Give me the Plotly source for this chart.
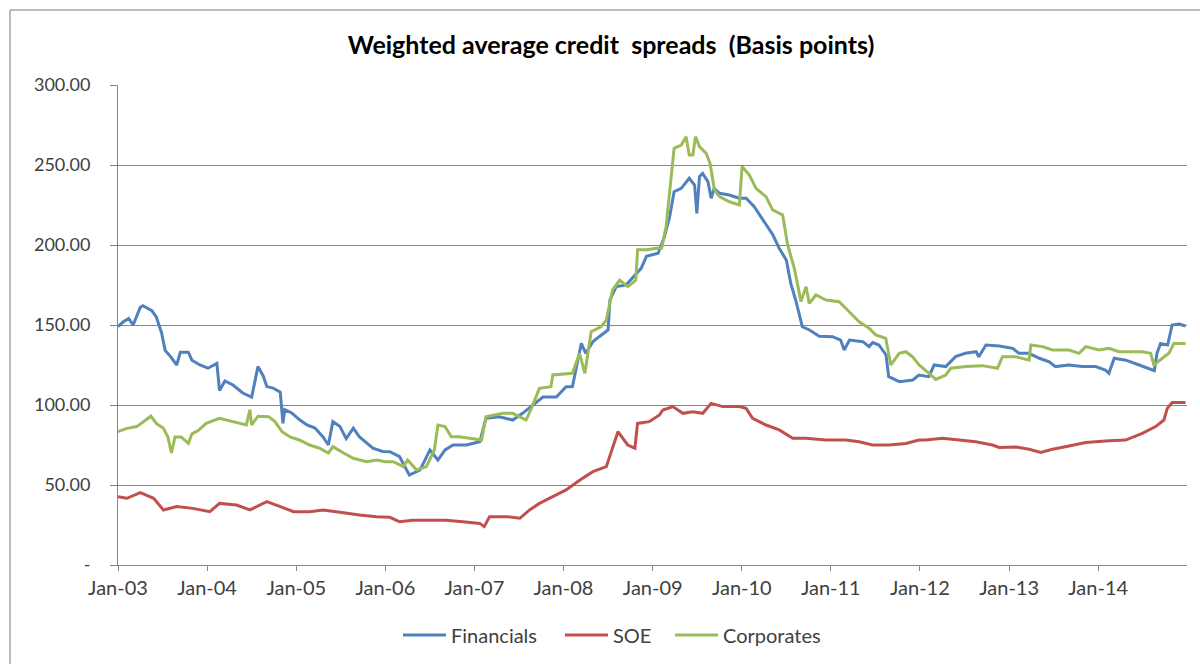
import datetime as dt
import plotly.graph_objects as go

# ---- data (x = decimal year, y = basis points) ----
fin_t = [2003.00, 2003.06, 2003.12, 2003.17, 2003.25, 2003.28, 2003.38, 2003.43, 2003.49, 2003.53,
         2003.58, 2003.66, 2003.70, 2003.79, 2003.83, 2003.92, 2004.01, 2004.11, 2004.14, 2004.20,
         2004.29, 2004.40, 2004.50, 2004.57, 2004.63, 2004.67, 2004.74, 2004.82, 2004.85, 2004.87,
         2004.95, 2005.04, 2005.12, 2005.21, 2005.30, 2005.36, 2005.41, 2005.49, 2005.56, 2005.64,
         2005.71, 2005.79, 2005.86, 2005.97, 2006.05, 2006.16, 2006.27, 2006.39, 2006.50, 2006.59,
         2006.67, 2006.76, 2006.91, 2007.06, 2007.13, 2007.28, 2007.43, 2007.54, 2007.66, 2007.77,
         2007.92, 2008.03, 2008.10, 2008.20, 2008.25, 2008.33, 2008.40, 2008.50, 2008.52, 2008.59,
         2008.70, 2008.78, 2008.87, 2008.93, 2009.06, 2009.13, 2009.19, 2009.24, 2009.32, 2009.41,
         2009.47, 2009.495, 2009.525, 2009.56, 2009.62, 2009.656, 2009.69, 2009.75, 2009.86, 2009.97,
         2010.05, 2010.14, 2010.20, 2010.27, 2010.35, 2010.42, 2010.50, 2010.55, 2010.61, 2010.68,
         2010.76, 2010.87, 2011.02, 2011.11, 2011.15, 2011.21, 2011.36, 2011.43, 2011.47, 2011.54,
         2011.62, 2011.65, 2011.77, 2011.92, 2011.99, 2012.10, 2012.16, 2012.29, 2012.40, 2012.51,
         2012.63, 2012.66, 2012.74, 2012.89, 2013.04, 2013.11, 2013.22, 2013.34, 2013.45, 2013.52,
         2013.67, 2013.82, 2013.97, 2014.08, 2014.12, 2014.18, 2014.31, 2014.46, 2014.57, 2014.63,
         2014.66, 2014.70, 2014.78, 2014.83, 2014.91, 2014.98]
fin_v = [149, 152, 154, 150, 161, 162, 159, 155, 145, 134,
         131, 125, 133, 133, 128, 125, 123, 126, 109, 115,
         112.5, 107.5, 105, 124, 118, 111.5, 110.6, 108, 88.5, 97,
         95, 90.6, 87.5, 85.6, 80, 75, 89.6, 86.5, 79, 85.6,
         80, 76, 73, 71, 70.8, 67.7, 56.2, 59.4, 71.9, 65.6,
         71.9, 75, 75, 77, 91.7, 92.7, 90.6, 94.8, 100, 105,
         105, 111.4, 111.4, 138.5, 132.3, 139.6, 142.7, 146.9, 165.6, 174,
         175, 180, 185.4, 193, 194.8, 205, 217.7, 233.3, 235.4, 241.7,
         237.5, 219.8, 242.7, 244.8, 239.6, 229.2, 235.4, 232.3, 231.25, 229.2,
         229.2, 224, 218.75, 212.5, 206.25, 198, 190.6, 176, 164.6, 148.9,
         146.9, 143, 142.7, 140.6, 134.4, 140.6, 139.6, 136.5, 139, 137.5,
         131.25, 117.7, 114.6, 115.6, 118.75, 117.7, 125, 124, 130.2, 132.3,
         133.3, 130.2, 137.5, 136.9, 135.4, 132.3, 132.3, 129.2, 127, 124,
         125, 124, 124, 121.9, 119.8, 129.2, 128, 125, 123, 121.5,
         132.3, 138.5, 137.5, 150, 150.6, 149.4]

soe_t = [2003.00, 2003.10, 2003.25, 2003.40, 2003.51, 2003.66, 2003.84, 2004.03, 2004.14, 2004.33,
         2004.48, 2004.67, 2004.82, 2004.97, 2005.15, 2005.30, 2005.53, 2005.71, 2005.90, 2006.05,
         2006.16, 2006.31, 2006.50, 2006.68, 2006.87, 2007.06, 2007.11, 2007.17, 2007.36, 2007.51,
         2007.62, 2007.73, 2007.88, 2008.03, 2008.18, 2008.33, 2008.48, 2008.55, 2008.61, 2008.72,
         2008.80, 2008.83, 2008.96, 2009.076, 2009.113, 2009.226, 2009.338, 2009.45, 2009.562, 2009.656,
         2009.786, 2009.973, 2010.048, 2010.122, 2010.272, 2010.421, 2010.571, 2010.721, 2010.945, 2011.169,
         2011.318, 2011.468, 2011.655, 2011.842, 2011.991, 2012.066, 2012.253, 2012.439, 2012.626, 2012.813,
         2012.888, 2013.075, 2013.224, 2013.355, 2013.486, 2013.673, 2013.86, 2014.121, 2014.308, 2014.495,
         2014.645, 2014.738, 2014.776, 2014.831, 2014.981]
soe_v = [42.7, 41.7, 45.2, 41.7, 34.4, 36.5, 35.4, 33.3, 38.5, 37.5,
         34.4, 39.6, 36.5, 33.3, 33.3, 34.4, 32.7, 31.2, 30.2, 29.8,
         27, 28, 28, 28, 27, 26, 24, 30.2, 30.2, 29.2,
         34.4, 38.5, 42.7, 46.9, 53, 58.3, 61.5, 74, 83.3, 75,
         73, 88.5, 89.6, 93.75, 96.9, 99, 94.8, 95.8, 94.8, 101,
         99, 99, 97.9, 91.7, 87.5, 84.4, 79.2, 79.2, 78.1, 78.1,
         77, 75, 75, 76, 78.1, 78.1, 79.2, 78.1, 77, 75,
         73.5, 73.8, 72.3, 70.4, 72.3, 74.4, 76.5, 77.7, 78.1, 82.3,
         86.5, 90.6, 97.9, 101.5, 101.5]

corp_t = [2003.00, 2003.10, 2003.21, 2003.28, 2003.37, 2003.43, 2003.51, 2003.56, 2003.60, 2003.64,
          2003.71, 2003.79, 2003.83, 2003.90, 2003.99, 2004.14, 2004.29, 2004.44, 2004.48, 2004.50,
          2004.57, 2004.69, 2004.76, 2004.84, 2004.93, 2005.04, 2005.15, 2005.26, 2005.36, 2005.41,
          2005.53, 2005.64, 2005.79, 2005.90, 2006.00, 2006.09, 2006.20, 2006.25, 2006.35, 2006.46,
          2006.55, 2006.59, 2006.67, 2006.74, 2006.83, 2006.98, 2007.08, 2007.13, 2007.23, 2007.32,
          2007.43, 2007.58, 2007.64, 2007.73, 2007.86, 2007.88, 2008.10, 2008.18, 2008.24, 2008.31,
          2008.42, 2008.48, 2008.55, 2008.63, 2008.72, 2008.81, 2008.83, 2008.93, 2009.04, 2009.10,
          2009.15, 2009.21, 2009.24, 2009.32, 2009.375, 2009.41, 2009.45, 2009.48, 2009.525, 2009.60,
          2009.644, 2009.693, 2009.749, 2009.861, 2009.973, 2010.003, 2010.085, 2010.16, 2010.272, 2010.346,
          2010.459, 2010.515, 2010.59, 2010.665, 2010.721, 2010.758, 2010.833, 2010.945, 2011.094, 2011.206,
          2011.318, 2011.43, 2011.505, 2011.617, 2011.674, 2011.767, 2011.842, 2011.916, 2011.991, 2012.103,
          2012.178, 2012.29, 2012.346, 2012.514, 2012.701, 2012.869, 2012.925, 2013.075, 2013.224, 2013.243,
          2013.374, 2013.486, 2013.673, 2013.785, 2013.86, 2014.009, 2014.121, 2014.233, 2014.495, 2014.589,
          2014.626, 2014.72, 2014.794, 2014.85, 2014.981]
corp_v = [83.3, 85.4, 86.5, 89.6, 93, 88.5, 85.4, 80, 70, 80,
          80, 76, 82, 84, 88.5, 91.7, 89.6, 87.5, 97, 87.5,
          93, 92.7, 89.6, 83.3, 80, 78, 75, 73, 70, 74,
          70, 66.7, 64.6, 65.6, 64.6, 64.6, 61.5, 65.6, 59.4, 61.5,
          71.9, 87.5, 86.5, 80.2, 80.2, 79.2, 78.1, 92.7, 93.75, 94.8,
          94.8, 90.6, 97.9, 110.4, 111.4, 118.75, 119.8, 132.3, 119.8, 145.8,
          148.9, 153, 171.9, 178, 174, 178, 197, 197, 198, 198,
          211.5, 244.8, 260.4, 262.5, 267.7, 256.25, 256.25, 267.7, 261.5, 257.3,
          251, 234.4, 230.2, 227, 225, 249, 243.75, 235.4, 230.2, 221.9,
          218.75, 200, 185.4, 164.6, 174, 163.5, 168.75, 165.6, 164.6, 158.3,
          152, 148, 143.75, 141.7, 125, 132.3, 133.3, 130.2, 125, 119.8,
          116, 118.75, 123, 124, 124.6, 123, 130.2, 130.2, 128, 137.5,
          136.5, 134.4, 134.4, 132.3, 136.5, 134.4, 135.4, 133.3, 133.3, 132.3,
          125, 129.2, 132.3, 138.5, 138.5]

series_names = ["Financials", "SOE", "Corporates"]
series_colors = ["#4F81BD", "#C0504D", "#9BBB59"]
y_tickvals = [0, 50, 100, 150, 200, 250, 300]
y_ticktext = ["-", "50.00", "100.00", "150.00", "200.00", "250.00", "300.00"]
title_text = "Weighted average credit&nbsp; spreads&nbsp; (Basis points)"


def to_date(t):
    y = int(t)
    start = dt.datetime(y, 1, 1)
    days = (dt.datetime(y + 1, 1, 1) - start).days
    return start + dt.timedelta(days=(t - y) * days)


FONT = "Lato, Carlito, Calibri, sans-serif"

L, R, T, B = 118, 13, 85, 99
W, H = 1200, 664
pw, ph = W - L - R, H - T - B

def px_x(p):
    return (p - L) / pw

def px_y(p):
    return (H - B - p) / ph

legend_ids = ["legend", "legend2", "legend3"]
legend_left_px = [403, 565, 675]   # where each legend entry starts (pixels)

fig = go.Figure()
for name, color, ts, vs, lid in zip(series_names, series_colors,
                                    [fin_t, soe_t, corp_t], [fin_v, soe_v, corp_v], legend_ids):
    fig.add_trace(go.Scatter(x=[to_date(t) for t in ts], y=vs, mode="lines", name=name,
                             legend=lid, line=dict(color=color, width=3.0)))

legend_common = dict(orientation="h", yanchor="middle", y=px_y(635), xanchor="left",
                     font=dict(family=FONT, size=20, color="#404040"), itemwidth=43,
                     bgcolor="rgba(0,0,0,0)", borderwidth=0)

fig.update_layout(
    width=W, height=H,
    margin=dict(l=L, r=R, t=T, b=B, autoexpand=False),
    paper_bgcolor="white", plot_bgcolor="white",
    font=dict(family=FONT, size=18, color="#404040"),
    title=dict(text=title_text, xref="container", x=611 / W, xanchor="center",
               yref="container", y=1 - 45 / H, yanchor="middle",
               font=dict(family=FONT, size=25, color="#000000", weight="bold")),
    showlegend=True,
    legend=dict(legend_common, x=px_x(legend_left_px[0] - 5)),
    legend2=dict(legend_common, x=px_x(legend_left_px[1] - 5)),
    legend3=dict(legend_common, x=px_x(legend_left_px[2] - 5)),
    xaxis=dict(type="date", range=[dt.datetime(2003, 1, 1), dt.datetime(2014, 12, 31)],
               dtick="M12", tick0="2003-01-01", tickformat="%b-%y",
               showgrid=False, showline=True, linecolor="#868686", linewidth=1,
               ticks="outside", ticklen=5, tickcolor="#868686", zeroline=False,
               tickfont=dict(family=FONT, size=20, color="#404040")),
    yaxis=dict(range=[0, 300], tickvals=y_tickvals, ticktext=y_ticktext,
               showgrid=True, gridcolor="#868686", gridwidth=1,
               showline=True, linecolor="#868686", linewidth=1,
               ticks="outside", ticklen=7, tickcolor="#868686", zeroline=False,
               ticklabelstandoff=16,
               tickfont=dict(family=FONT, size=18, color="#404040")),
    shapes=[
        dict(type="line", xref="paper", yref="paper", x0=px_x(10), x1=px_x(1210),
             y0=px_y(10), y1=px_y(10), line=dict(color="#A6A6A6", width=1.5)),
        dict(type="line", xref="paper", yref="paper", x0=px_x(10), x1=px_x(10),
             y0=px_y(10), y1=px_y(680), line=dict(color="#A6A6A6", width=1.5)),
    ],
)

fig.write_html("out.html", config={"displayModeBar": False},
               post_script="document.body.style.margin='0px';")
